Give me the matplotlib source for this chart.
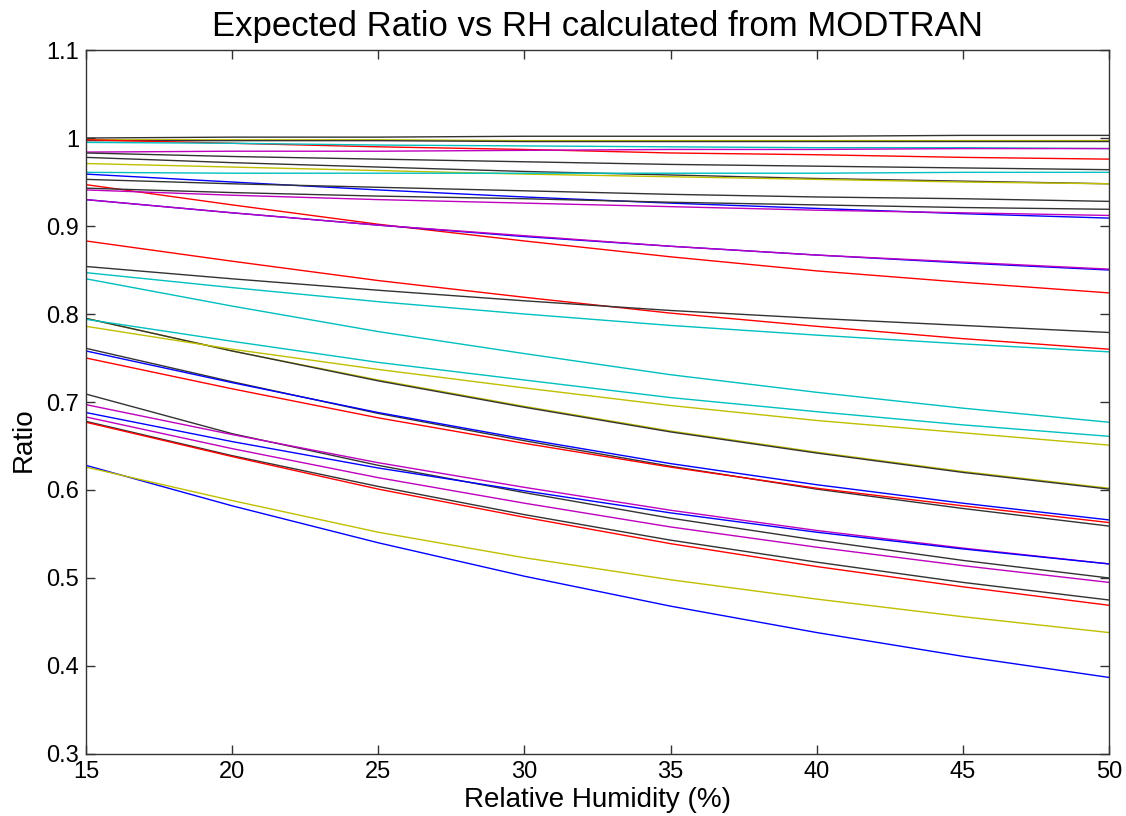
import matplotlib
matplotlib.use('Agg')
import matplotlib.pyplot as plt

# MATLAB-like colours
blue = (0, 0, 1)
red = (1, 0, 0)
cyan = (0, 0.75, 0.75)
purple = (0.75, 0, 0.75)
olive = (0.75, 0.75, 0)
black = (0.2, 0.2, 0.2)

rh = [15, 20, 25, 30, 35, 40, 45, 50]

# ratio curves, top to bottom at RH = 15
r01 = [1.000, 1.001, 1.001, 1.002, 1.002, 1.002, 1.003, 1.003]
r02 = [0.998, 0.998, 0.998, 0.997, 0.997, 0.997, 0.997, 0.997]
r03 = [0.997, 0.997, 0.997, 0.996, 0.996, 0.996, 0.996, 0.996]
r04 = [0.998, 0.994, 0.990, 0.987, 0.983, 0.981, 0.978, 0.976]
r05 = [0.995, 0.994, 0.992, 0.991, 0.990, 0.989, 0.989, 0.988]
r06 = [0.984, 0.985, 0.985, 0.986, 0.987, 0.987, 0.988, 0.988]
r07 = [0.983, 0.979, 0.976, 0.973, 0.970, 0.968, 0.966, 0.964]
r08 = [0.978, 0.972, 0.967, 0.962, 0.958, 0.954, 0.951, 0.948]
r09 = [0.971, 0.967, 0.963, 0.959, 0.956, 0.953, 0.950, 0.948]
r10 = [0.961, 0.960, 0.960, 0.960, 0.960, 0.960, 0.961, 0.961]
r11 = [0.959, 0.950, 0.941, 0.933, 0.926, 0.920, 0.914, 0.909]
r12 = [0.953, 0.948, 0.944, 0.940, 0.936, 0.933, 0.931, 0.928]
r13 = [0.947, 0.924, 0.902, 0.883, 0.865, 0.849, 0.836, 0.824]
r14 = [0.943, 0.938, 0.934, 0.931, 0.927, 0.924, 0.921, 0.919]
r15 = [0.941, 0.935, 0.930, 0.926, 0.922, 0.918, 0.915, 0.912]
r16 = [0.930, 0.915, 0.901, 0.888, 0.877, 0.867, 0.858, 0.850]
r17 = [0.930, 0.915, 0.901, 0.889, 0.877, 0.867, 0.859, 0.851]
r18 = [0.883, 0.860, 0.838, 0.819, 0.801, 0.786, 0.772, 0.760]
r19 = [0.854, 0.840, 0.827, 0.815, 0.804, 0.795, 0.787, 0.779]
r20 = [0.847, 0.830, 0.814, 0.800, 0.787, 0.776, 0.766, 0.757]
r21 = [0.840, 0.809, 0.780, 0.755, 0.731, 0.711, 0.693, 0.677]
r22 = [0.795, 0.758, 0.725, 0.695, 0.667, 0.643, 0.621, 0.602]
r23 = [0.795, 0.758, 0.724, 0.694, 0.666, 0.642, 0.620, 0.601]
r24 = [0.794, 0.769, 0.745, 0.725, 0.705, 0.689, 0.674, 0.661]
r25 = [0.786, 0.760, 0.737, 0.716, 0.696, 0.679, 0.665, 0.651]
r26 = [0.761, 0.723, 0.687, 0.656, 0.627, 0.601, 0.579, 0.559]
r27 = [0.758, 0.722, 0.688, 0.658, 0.630, 0.606, 0.585, 0.566]
r28 = [0.750, 0.715, 0.682, 0.653, 0.626, 0.602, 0.582, 0.563]
r29 = [0.709, 0.664, 0.628, 0.597, 0.568, 0.543, 0.520, 0.500]
r30 = [0.697, 0.663, 0.631, 0.603, 0.577, 0.554, 0.534, 0.516]
r31 = [0.688, 0.655, 0.625, 0.599, 0.574, 0.552, 0.533, 0.516]
r32 = [0.683, 0.647, 0.614, 0.585, 0.558, 0.535, 0.514, 0.495]
r33 = [0.678, 0.639, 0.604, 0.572, 0.543, 0.518, 0.495, 0.475]
r34 = [0.677, 0.638, 0.601, 0.569, 0.539, 0.513, 0.490, 0.469]
r35 = [0.628, 0.582, 0.540, 0.502, 0.468, 0.438, 0.411, 0.387]
r36 = [0.626, 0.588, 0.552, 0.523, 0.498, 0.476, 0.456, 0.438]

curves = [r01, r02, r03, r04, r05, r06, r07, r08, r09, r10, r11, r12,
          r13, r14, r15, r16, r17, r18, r19, r20, r21, r22, r23, r24,
          r25, r26, r27, r28, r29, r30, r31, r32, r33, r34, r35, r36]
colours = [black, olive, black, red, cyan, purple, black, black, olive, cyan, blue, black,
           red, black, purple, blue, purple, red, black, cyan, cyan, olive, black, cyan,
           olive, black, blue, red, black, purple, blue, purple, black, red, blue, olive]

plt.rcParams['font.family'] = ['Liberation Sans', 'DejaVu Sans']

fig = plt.figure(figsize=(11.26, 8.16), dpi=100)
ax = fig.add_axes([0.0764, 0.076, 0.9085, 0.8627])

for vals, col in zip(curves, colours):
    ax.plot(rh, vals, color=col, linewidth=1.0)

ax.set_xlim(15, 50)
ax.set_ylim(0.3, 1.1)
ax.set_xticks([15, 20, 25, 30, 35, 40, 45, 50])
ax.set_yticks([0.3, 0.4, 0.5, 0.6, 0.7, 0.8, 0.9, 1.0, 1.1])
ax.set_yticklabels(['0.3', '0.4', '0.5', '0.6', '0.7', '0.8', '0.9', '1', '1.1'])
ax.tick_params(direction='in', length=6.5, width=1, top=True, right=True,
               labelsize=17, pad=5, color='#333333')
for sp in ax.spines.values():
    sp.set_color('#333333')
    sp.set_linewidth(1)

ax.set_title('Expected Ratio vs RH calculated from MODTRAN', fontsize=25, pad=10)
ax.set_xlabel('Relative Humidity (%)', fontsize=20, labelpad=3)
ax.set_ylabel('Ratio', fontsize=20)
ax.yaxis.set_label_coords(-0.048, 0.447)

fig.savefig('out.png', dpi=100, facecolor='white')
